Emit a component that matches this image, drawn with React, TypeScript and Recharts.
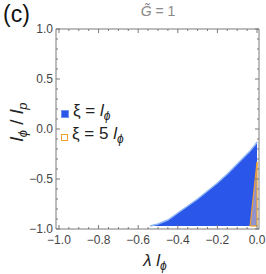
import React from "react";
import { ComposedChart, Area, XAxis, YAxis, ReferenceLine, ReferenceArea } from "recharts";

const regionX = [-0.54, -0.5, -0.45, -0.4, -0.35, -0.3, -0.25, -0.2, -0.15, -0.1, -0.05, -0.035, -0.01, 0];
const blueUpper = [-0.97, -0.95, -0.91, -0.84, -0.77, -0.7, -0.62, -0.54, -0.45, -0.35, -0.25, -0.22, -0.16, -0.13];
const orangeUpper = [null, null, null, null, null, null, null, null, null, null, null, -0.97, null, -0.33];
const baseLevel = -0.97;

const xMajorTicks = [-1, -0.8, -0.6, -0.4, -0.2, 0];
const xMinorTicks = [-0.95, -0.9, -0.85, -0.75, -0.7, -0.65, -0.55, -0.5, -0.45, -0.35, -0.3, -0.25, -0.15, -0.1, -0.05];
const yMajorTicks = [-1, -0.5, 0, 0.5, 1];
const yMinorTicks = [-0.9, -0.8, -0.7, -0.6, -0.4, -0.3, -0.2, -0.1, 0.1, 0.2, 0.3, 0.4, 0.6, 0.7, 0.8, 0.9];

const X_DOMAIN: [number, number] = [-1.015, 0.01];
const Y_DOMAIN: [number, number] = [-1, 1];

const data = regionX.map((x, i) => ({ x, blue: blueUpper[i], orange: orangeUpper[i] }));
const orangePts = data.filter((d) => d.orange !== null);
const orangeFirst = orangePts[0];
const orangeLast = orangePts[orangePts.length - 1];

const fmt = (v: number) => v.toFixed(1).replace("-", "\u2212");

const FRAME = "#7a7a7a";
const FONT = "Liberation Sans, Arial, sans-serif";
const TICK_FONT = { fontFamily: FONT, fontSize: 12, fill: "#444" };
const ORANGE = "#f0a030";

export default function App() {
  const xSpan = X_DOMAIN[1] - X_DOMAIN[0];
  const xMajLen = (4 / 203) * xSpan;
  const xMinLen = (2 / 203) * xSpan;
  const yMajLen = 0.04;
  const yMinLen = 0.02;
  return (
    <div style={{ position: "absolute", left: 0, top: 0, width: 266, height: 274, background: "#fff" }}>
      <ComposedChart width={266} height={274} data={data} margin={{ top: 29, right: 7, left: 0, bottom: 15 }}>
        <XAxis
          type="number"
          dataKey="x"
          domain={X_DOMAIN}
          ticks={xMajorTicks}
          tickFormatter={fmt}
          axisLine={false}
          tickLine={false}
          tickSize={2}
          tickMargin={4}
          height={30}
          tick={TICK_FONT}
          allowDataOverflow
        />
        <YAxis
          type="number"
          domain={Y_DOMAIN}
          ticks={yMajorTicks}
          tickFormatter={fmt}
          axisLine={false}
          tickLine={false}
          tickSize={1}
          tickMargin={2}
          width={56}
          tick={TICK_FONT}
          allowDataOverflow
        />
        <Area
          dataKey="blue"
          type="linear"
          baseValue={baseLevel}
          fill="#2b56ea"
          fillOpacity={1}
          stroke="#8db5f5"
          strokeWidth={1.5}
          isAnimationActive={false}
          dot={false}
          activeDot={false}
        />
        <Area
          dataKey="orange"
          type="linear"
          baseValue={baseLevel}
          connectNulls
          fill="#f5d0b0"
          fillOpacity={0.5}
          stroke={ORANGE}
          strokeWidth={1.2}
          isAnimationActive={false}
          dot={false}
          activeDot={false}
        />
        <ReferenceLine segment={[{ x: orangeFirst.x, y: baseLevel }, { x: orangeLast.x, y: baseLevel }]} stroke={ORANGE} strokeWidth={1.2} ifOverflow="visible" />
        <ReferenceLine segment={[{ x: orangeLast.x, y: baseLevel }, { x: orangeLast.x, y: orangeLast.orange as number }]} stroke={ORANGE} strokeWidth={1.2} ifOverflow="visible" />
        <ReferenceArea x1={X_DOMAIN[0]} x2={X_DOMAIN[1]} y1={Y_DOMAIN[0]} y2={Y_DOMAIN[1]} fill="none" stroke={FRAME} strokeWidth={1} ifOverflow="visible" />
        {xMajorTicks.map((t) => (
          <ReferenceLine key={`xb${t}`} segment={[{ x: t, y: Y_DOMAIN[0] }, { x: t, y: Y_DOMAIN[0] + yMajLen }]} stroke={FRAME} ifOverflow="visible" />
        ))}
        {xMajorTicks.map((t) => (
          <ReferenceLine key={`xt${t}`} segment={[{ x: t, y: Y_DOMAIN[1] }, { x: t, y: Y_DOMAIN[1] - yMajLen }]} stroke={FRAME} ifOverflow="visible" />
        ))}
        {xMinorTicks.map((t) => (
          <ReferenceLine key={`xbm${t}`} segment={[{ x: t, y: Y_DOMAIN[0] }, { x: t, y: Y_DOMAIN[0] + yMinLen }]} stroke={FRAME} ifOverflow="visible" />
        ))}
        {xMinorTicks.map((t) => (
          <ReferenceLine key={`xtm${t}`} segment={[{ x: t, y: Y_DOMAIN[1] }, { x: t, y: Y_DOMAIN[1] - yMinLen }]} stroke={FRAME} ifOverflow="visible" />
        ))}
        {yMajorTicks.map((t) => (
          <ReferenceLine key={`yl${t}`} segment={[{ x: X_DOMAIN[0], y: t }, { x: X_DOMAIN[0] + xMajLen, y: t }]} stroke={FRAME} ifOverflow="visible" />
        ))}
        {yMajorTicks.map((t) => (
          <ReferenceLine key={`yr${t}`} segment={[{ x: X_DOMAIN[1], y: t }, { x: X_DOMAIN[1] - xMajLen, y: t }]} stroke={FRAME} ifOverflow="visible" />
        ))}
        {yMinorTicks.map((t) => (
          <ReferenceLine key={`ylm${t}`} segment={[{ x: X_DOMAIN[0], y: t }, { x: X_DOMAIN[0] + xMinLen, y: t }]} stroke={FRAME} ifOverflow="visible" />
        ))}
        {yMinorTicks.map((t) => (
          <ReferenceLine key={`yrm${t}`} segment={[{ x: X_DOMAIN[1], y: t }, { x: X_DOMAIN[1] - xMinLen, y: t }]} stroke={FRAME} ifOverflow="visible" />
        ))}
      </ComposedChart>
      <div style={{ position: "absolute", left: 3, top: 1, fontFamily: FONT, fontSize: 23, color: "#111" }}>(c)</div>
      <div style={{ position: "absolute", left: 130, top: 3, width: 56, textAlign: "center", fontFamily: FONT, fontSize: 14, color: "#8a8a8a" }}>
        <i>G̃</i> = 1
      </div>
      <div style={{ position: "absolute", left: 0, top: 122, width: 36, height: 0 }}>
        <div style={{ position: "absolute", left: 18, top: 0, transform: "translate(-50%, -50%) rotate(-90deg)", whiteSpace: "nowrap", fontFamily: FONT, fontSize: 19, color: "#222" }}>
          <i>l</i><sub style={{ fontSize: 13 }}><i>ϕ</i></sub> / <i>l</i><sub style={{ fontSize: 13 }}><i>p</i></sub>
        </div>
      </div>
      <div style={{ position: "absolute", left: 105, top: 251, width: 100, textAlign: "center", fontFamily: FONT, fontSize: 17, color: "#222", whiteSpace: "nowrap" }}>
        <i>λ l</i><sub style={{ fontSize: 12 }}><i>ϕ</i></sub>
      </div>
      <div style={{ position: "absolute", left: 61, top: 102, fontFamily: FONT, fontSize: 17, color: "#222", lineHeight: "17px", whiteSpace: "nowrap" }}>
        <div style={{ display: "flex", alignItems: "center" }}>
          <span style={{ display: "inline-block", width: 6, height: 6, background: "#2b56ea", border: "1px solid #6f95f0", marginRight: 4 }} />
          <span>ξ = <i>l</i><sub style={{ fontSize: 12 }}><i>ϕ</i></sub></span>
        </div>
        <div style={{ display: "flex", alignItems: "center" }}>
          <span style={{ display: "inline-block", width: 5, height: 5, background: "#fff", border: `1px solid ${ORANGE}`, marginRight: 4 }} />
          <span>ξ = 5 <i>l</i><sub style={{ fontSize: 12 }}><i>ϕ</i></sub></span>
        </div>
      </div>
    </div>
  );
}
